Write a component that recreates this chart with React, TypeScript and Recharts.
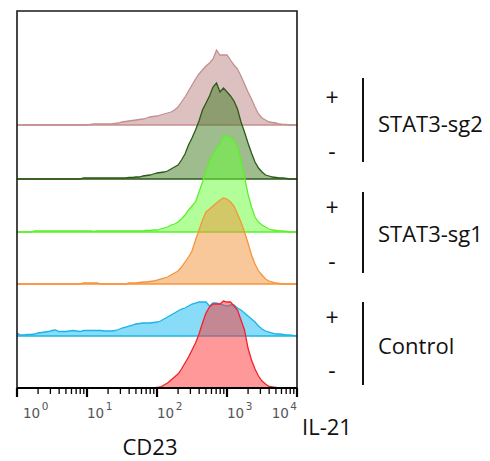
import React from 'react';
import { ComposedChart, Area, XAxis, YAxis, ReferenceArea } from 'recharts';

// CD23 bins, as log10 exponents
const cd23Log = [
  0, 0.05, 0.1, 0.15, 0.2, 0.25, 0.3, 0.35, 0.4, 0.45,
  0.5, 0.55, 0.6, 0.65, 0.7, 0.75, 0.8, 0.85, 0.9, 0.95,
  1.0, 1.05, 1.1, 1.15, 1.2, 1.25, 1.3, 1.35, 1.4, 1.45,
  1.5, 1.55, 1.6, 1.65, 1.7, 1.75, 1.8, 1.85, 1.9, 1.95,
  2.0, 2.05, 2.1, 2.15, 2.2, 2.25, 2.3, 2.35, 2.4, 2.45,
  2.5, 2.55, 2.6, 2.65, 2.7, 2.75, 2.8, 2.85, 2.9, 2.95,
  3.0, 3.05, 3.1, 3.15, 3.2, 3.25, 3.3, 3.35, 3.4, 3.45,
  3.5, 3.55, 3.6, 3.65, 3.7, 3.75, 3.8, 3.85, 3.9, 3.95,
  4.0,
];

// STAT3-sg2, IL-21 +
const sg2Plus = [
  0, 0, 0, 0, 0, 0, 0, 0, 0, 0,
  0, 0, 0, 0, 0, 0, 0, 0, 0, 0,
  0, 0.5, 1, 1, 1, 1, 1, 1, 1.5, 2,
  3, 3.5, 4, 4.5, 5, 5.5, 6, 7, 8, 8.5,
  9, 10, 11, 12, 13, 15, 18, 23, 28, 34,
  40, 46, 51, 55, 59, 62, 66, 75, 70, 70,
  70, 65, 60, 56, 49, 41, 33, 26, 18, 11,
  7, 5, 3, 2.5, 2, 1, 0.5, 0.5, 0, 0,
  0,
];
// STAT3-sg2, IL-21 -
const sg2Minus = [
  0, 0, 0, 0, 0, 0, 0, 0, 0, 0,
  0, 0, 0, 0, 0, 0, 0, 0, 0, 1,
  1, 1, 1, 1, 1, 1, 1, 1, 1, 1,
  1, 1, 1.5, 1.5, 2, 2, 3, 3.5, 4, 5,
  6, 6.5, 7, 8, 10, 12, 14, 19, 25, 34,
  41, 49, 58, 69, 76, 83, 92, 96, 87, 91,
  87, 83, 78, 70, 57, 47, 36, 26, 17, 11,
  7, 4, 3, 2, 1.5, 1, 1, 0.5, 0, 0,
  0,
];
// STAT3-sg1, IL-21 +
const sg1Plus = [
  0, 0, 0, 0, 0, 1, 1, 1, 1, 1,
  1, 1, 1, 1, 1, 1, 1, 1, 1, 1,
  1, 1, 0.5, 1, 1, 1, 1, 1, 1, 1,
  1, 1, 1, 1, 1, 1, 1, 1.5, 1.5, 2,
  2, 3, 4, 5, 7, 8, 10, 13, 17, 22,
  26, 30, 40, 50, 61, 71, 78, 84, 88, 96,
  96, 95, 92, 85, 72, 55, 38, 25, 15, 10,
  7, 5, 3, 2, 1.5, 1, 1, 0.5, 0, 0,
  0,
];
// STAT3-sg1, IL-21 -
const sg1Minus = [
  0, 0, 0, 0, 0, 0, 0, 0, 0, 0,
  0, 0, 0, 0, 0, 0, 0, 0, 0, 1,
  1, 1, 1, 1, 0, 0, 0, 0, 0, 0,
  0, 0, 1, 1, 1, 1.5, 2, 2, 2.5, 3,
  4, 5, 6, 7, 9, 11, 13, 17, 22, 27,
  33, 44, 54, 64, 72, 75, 78, 81, 84, 86,
  85, 82, 78, 70, 62, 52, 41, 29, 20, 13,
  9, 5, 3, 2, 1, 0.5, 0, 0, 0, 0,
  0,
];
// Control, IL-21 +
const ctrlPlus = [
  3, 1, 1, 1.5, 1.5, 2, 3, 3.5, 4, 4.5,
  5.5, 6, 4.5, 4.5, 4.5, 5, 5.5, 5, 4.5, 5.5,
  5.5, 5.5, 5.5, 5.5, 5.5, 5, 5, 5, 5.5, 6.5,
  8, 9, 10, 11, 12, 12.5, 13, 13, 13, 13.5,
  14, 15, 17, 19, 21, 23, 25, 27, 28, 30,
  32, 33, 34, 34, 34, 30, 33, 33, 32, 31,
  30, 31, 31, 28, 26, 23, 20, 17, 14, 10,
  7, 5, 4, 3, 2, 2, 1.5, 1, 1, 0.5,
  0,
];
// Control, IL-21 -
const ctrlMinus = [
  0, 0, 0, 0, 0, 0, 0, 0, 0, 0,
  0, 0, 0, 0, 0, 0, 0, 0, 0, 0,
  0, 0, 0, 0, 0, 0, 0, 0, 0, 0,
  0, 0, 0, 0, 0, 0, 0, 0, 0, 0,
  0.5, 1, 3, 5, 8, 11, 14, 19, 25, 31,
  38, 45, 54, 65, 75, 81, 84, 84, 84, 87,
  86, 86, 82, 78, 68, 58, 40, 28, 19, 12,
  7, 4, 1.5, 1, 0.5, 0, 0, 0, 0, 0,
  0,
];

const xTicks = [
  1, 2, 3, 4, 5, 6, 7, 8, 9,
  10, 20, 30, 40, 50, 60, 70, 80, 90,
  100, 200, 300, 400, 500, 600, 700, 800, 900,
  1000, 2000, 3000, 4000, 5000, 6000, 7000, 8000, 9000,
  10000,
];

const groups = ['STAT3-sg2', 'STAT3-sg1', 'Control'];
const il21Signs = ['+', '-'];

// series drawn top to bottom (lower rows painted on top)
const series = [
  { key: 'sg2Plus', values: sg2Plus, offset: 263, stroke: '#c48f8f', fill: '#bb8181' },
  { key: 'sg2Minus', values: sg2Minus, offset: 209, stroke: '#2c5a18', fill: '#3d7a1d' },
  { key: 'sg1Plus', values: sg1Plus, offset: 156, stroke: '#5cf02c', fill: '#66ff33' },
  { key: 'sg1Minus', values: sg1Minus, offset: 104, stroke: '#f7943a', fill: '#f29136' },
  { key: 'ctrlPlus', values: ctrlPlus, offset: 52, stroke: '#1cb4e8', fill: '#11baf0' },
  { key: 'ctrlMinus', values: ctrlMinus, offset: 0, stroke: '#f5202a', fill: '#ff3333' },
];

const rows = cd23Log.map((lg, i) => {
  const r: Record<string, number> = { cd23: Math.pow(10, lg) };
  series.forEach((s) => {
    r[s.key] = s.values[i];
  });
  return r;
});

const Y_MAX = 377;

const Tick = (props: any) => {
  const { x, y, payload } = props;
  const v = payload.value as number;
  const exp = Math.round(Math.log10(v));
  const major = Math.abs(v - Math.pow(10, exp)) < 1e-6;
  const isFirst = v === 1;
  const isLast = v === 10000;
  return (
    <g>
      <line
        x1={x}
        x2={x}
        y1={y}
        y2={y + (major ? 9 : 6)}
        stroke="#000"
        strokeWidth={major ? 2.2 : 1.3}
      />
      {major && (
        <text
          x={x + (isFirst ? 6 : 0)}
          y={y + 30}
          textAnchor={isLast ? 'end' : 'start'}
          fill="#555"
          fontFamily="DejaVu Sans"
          fontSize={13.5}
        >
          <tspan>10</tspan>
          <tspan dx={1.5} dy={-8} fontSize={10.5}>
            {exp}
          </tspan>
        </text>
      )}
    </g>
  );
};

const FONT = '"Open Sans", sans-serif';

export default function App() {
  // page coords minus 8 px body margin
  const groupY = [
    { plus: 89, minus: 143, text: 115, top: 70, bottom: 154 },
    { plus: 199, minus: 253, text: 225, top: 184, bottom: 265 },
    { plus: 309, minus: 362, text: 337, top: 294, bottom: 377 },
  ];
  return (
    <div style={{ position: 'relative', width: 482, height: 453 }}>
      <ComposedChart
        width={482}
        height={453}
        data={rows}
        margin={{ top: 3, left: 9, right: 193, bottom: 33 }}
      >
        <XAxis
          dataKey="cd23"
          type="number"
          scale="log"
          domain={[1, 10000]}
          allowDataOverflow
          ticks={xTicks}
          interval={0}
          tick={<Tick />}
          tickLine={false}
          tickSize={0}
          tickMargin={0}
          height={40}
          axisLine={{ stroke: '#000', strokeWidth: 2 }}
        />
        <YAxis
          type="number"
          domain={[0, Y_MAX]}
          allowDataOverflow
          tick={false}
          tickLine={false}
          axisLine={false}
          width={0}
        />
        {series.map((s) => (
          <Area
            key={s.key}
            type="linear"
            dataKey={(d: any) => [s.offset, s.offset + d[s.key]]}
            stroke={s.stroke}
            strokeWidth={1.3}
            fill={s.fill}
            fillOpacity={0.5}
            isAnimationActive={false}
            dot={false}
            activeDot={false}
          />
        ))}
        <ReferenceArea
          x1={1}
          x2={10000}
          y1={0}
          y2={Y_MAX}
          fill="none"
          fillOpacity={0}
          stroke="#1a1a1a"
          strokeWidth={1.6}
          ifOverflow="visible"
        />
      </ComposedChart>
      <svg
        width={482}
        height={453}
        style={{ position: 'absolute', left: 0, top: 0, pointerEvents: 'none' }}
      >
        {groups.map((g, i) => {
          const p = groupY[i];
          return (
            <g key={g}>
              <text x={324} y={p.plus} dominantBaseline="central" textAnchor="middle" fontFamily={FONT} fontSize={23} fill="#111">
                {il21Signs[0]}
              </text>
              <text x={324} y={p.minus} dominantBaseline="central" textAnchor="middle" fontFamily={FONT} fontSize={23} fill="#111">
                {il21Signs[1]}
              </text>
              <line x1={355} x2={355} y1={p.top} y2={p.bottom} stroke="#111" strokeWidth={2} />
              <text x={370} y={p.text} dominantBaseline="central" fontFamily={FONT} fontSize={22} fill="#111">
                {g}
              </text>
            </g>
          );
        })}
        <text x={294} y={427} fontFamily={FONT} fontSize={22} fill="#111">
          IL-21
        </text>
        <text x={142} y={447} textAnchor="middle" fontFamily={FONT} fontSize={22} fill="#111">
          CD23
        </text>
      </svg>
    </div>
  );
}
